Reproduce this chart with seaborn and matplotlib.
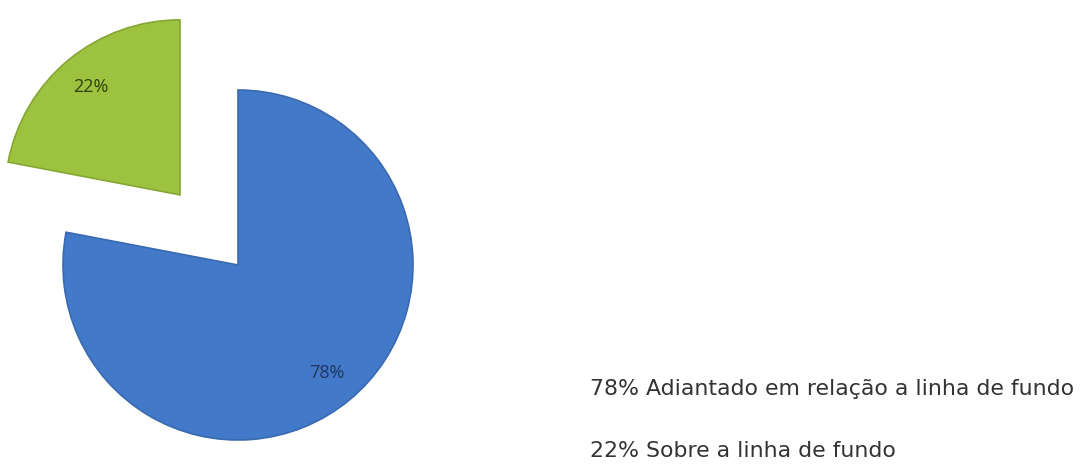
import matplotlib
matplotlib.use("Agg")
import matplotlib.pyplot as plt
import seaborn as sns

categories = ["Adiantado em relação a linha de fundo", "Sobre a linha de fundo"]
values = [78, 22]
colors = ["#4279c8", "#9dc23f"]
edge_colors = ["#3a6aaf", "#86a634"]
label_colors = ["#1e3560", "#2d3f0c"]
explode = [0.0, 0.52]

sns.set_theme(style="white")
plt.rcParams["font.family"] = ["Open Sans", "DejaVu Sans"]

W, H, DPI = 1085, 470, 100
fig = plt.figure(figsize=(W / DPI, H / DPI), dpi=DPI)
ax = fig.add_axes([0, 0, 1, 1])

# pie centre and radius in pixels
cx, cy, r = 238, 265, 175
wedges, _, autotexts = ax.pie(
    values,
    colors=colors,
    explode=explode,
    startangle=90,
    counterclock=False,
    autopct="%d%%",
    pctdistance=0.8,
    wedgeprops=dict(linewidth=1.2),
    textprops=dict(fontsize=13),
)
for w, ec in zip(wedges, edge_colors):
    w.set_edgecolor(ec)
for t, c in zip(autotexts, label_colors):
    t.set_color(c)

ax.set_xlim(-cx / r, (W - cx) / r)
ax.set_ylim(-(H - cy) / r, cy / r)
ax.set_aspect("auto")
ax.axis("off")

# legend entries as plain text lines
ys = [389, 451]
for v, cat, y in zip(values, categories, ys):
    fig.text(590 / W, 1 - y / H, f"{v}% {cat}", fontsize=15.8,
             family=["DejaVu Sans"], color="#333333", va="center", ha="left")

fig.savefig("out.png", dpi=DPI, facecolor="white")
